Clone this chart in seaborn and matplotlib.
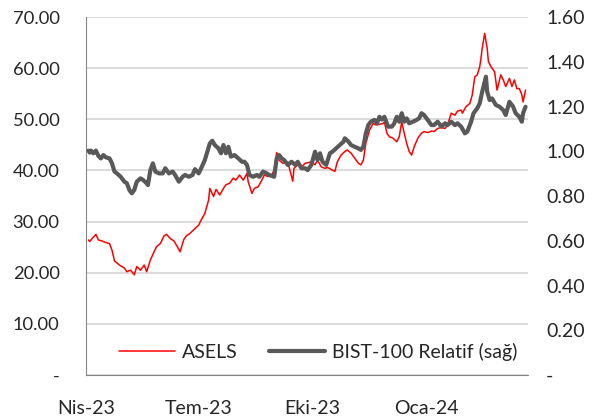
import numpy as np
import pandas as pd
import matplotlib
matplotlib.use("Agg")
import matplotlib.pyplot as plt
from matplotlib.ticker import FuncFormatter, MultipleLocator
import seaborn as sns

# days counted from 2023-04-01
asels_days = [2, 3, 5, 8, 10, 13, 16, 19, 21, 23, 27, 31, 33, 36, 39, 41, 44, 47, 49, 52,
              55, 57, 60, 63, 65, 68, 71, 73, 76, 79, 81, 84, 87, 91, 93, 96, 99, 100, 103, 105,
              108, 111, 113, 116, 119, 121, 124, 127, 130, 131, 134, 136, 139, 142, 144, 147, 150, 152, 154, 156,
              159, 162, 164, 167, 168, 171, 174, 177, 179, 182, 185, 187, 190, 193, 195, 198, 201, 203, 206, 209,
              211, 214, 217, 220, 222, 224, 226, 229, 232, 234, 237, 240, 241, 243, 245, 248, 251, 253, 255, 257,
              259, 261, 263, 265, 268, 271, 273, 276, 279, 281, 284, 287, 290, 292, 295, 298, 300, 303, 304, 307,
              310, 312, 314, 316, 318, 319, 320, 322, 324, 325, 327, 330, 332, 335, 337, 339, 342, 344, 346, 348,
              350, 352, 353, 355]
asels = [26.4, 26.1, 26.7, 27.5, 26.4, 26.2, 25.9, 25.7, 24.4, 22.3, 21.5, 20.9, 20.2, 20.5, 19.6, 21.2, 20.5, 21.5, 20.2, 22.5,
         24.1, 25.1, 25.7, 27.2, 27.5, 26.7, 26.2, 25.4, 24.1, 26.5, 27.2, 27.7, 28.4, 29.3, 30.3, 31.6, 34.2, 36.5, 34.9, 36.3,
         35.2, 36.5, 37.2, 37.5, 38.5, 38.1, 39.1, 38.1, 39.4, 37.8, 35.5, 36.5, 36.8, 38.1, 39.1, 38.8, 39.1, 40.1, 43.5, 42.0,
         41.4, 41.7, 40.7, 37.9, 40.4, 41.1, 40.7, 41.4, 41.5, 41.7, 41.1, 42.0, 40.7, 40.4, 40.6, 40.2, 39.8, 41.7, 43.0, 43.7,
         44.0, 43.4, 42.4, 41.4, 41.1, 42.0, 45.3, 47.9, 49.2, 48.9, 49.0, 49.2, 49.5, 47.3, 46.6, 46.3, 45.6, 46.6, 49.5, 47.3,
         45.3, 43.7, 43.0, 44.6, 46.3, 47.3, 47.6, 47.4, 47.7, 47.6, 48.2, 48.4, 48.2, 48.9, 51.2, 50.8, 51.6, 51.8, 51.2, 52.5,
         53.1, 54.8, 58.3, 58.7, 60.3, 61.9, 63.9, 66.8, 63.9, 61.3, 60.3, 59.3, 55.7, 58.7, 57.7, 56.4, 58.0, 56.4, 57.7, 56.0,
         56.0, 54.8, 53.4, 55.7]

bist_days = [2, 3, 4, 6, 8, 10, 12, 14, 16, 19, 21, 23, 25, 28, 31, 33, 35, 37, 39, 41,
             44, 46, 49, 50, 52, 54, 56, 59, 62, 64, 67, 70, 72, 75, 78, 80, 83, 86, 88, 91,
             93, 96, 98, 100, 102, 104, 107, 109, 111, 113, 115, 117, 120, 123, 126, 128, 130, 132, 135, 138,
             140, 143, 146, 148, 152, 154, 156, 158, 160, 163, 166, 169, 171, 174, 177, 179, 182, 185, 187, 189,
             191, 194, 197, 199, 202, 205, 208, 209, 212, 214, 217, 220, 222, 224, 226, 228, 230, 233, 235, 237,
             239, 241, 244, 247, 249, 251, 253, 255, 257, 259, 261, 264, 267, 269, 271, 273, 276, 279, 281, 284,
             287, 290, 292, 295, 298, 300, 303, 306, 308, 311, 313, 316, 318, 320, 323, 324, 326, 328, 331, 334,
             337, 339, 342, 345, 347, 350, 352, 353, 355]
bist = [1.003, 0.994, 1.003, 0.991, 1.003, 0.979, 0.968, 0.983, 0.973, 0.968, 0.946, 0.909, 0.901, 0.886, 0.864, 0.857, 0.827, 0.812, 0.827, 0.864,
        0.879, 0.872, 0.857, 0.849, 0.916, 0.946, 0.909, 0.901, 0.901, 0.924, 0.901, 0.909, 0.894, 0.864, 0.886, 0.894, 0.886, 0.894, 0.920, 0.901,
        0.924, 0.961, 0.998, 1.035, 1.047, 1.028, 1.013, 0.991, 1.028, 0.991, 1.020, 0.976, 0.983, 0.968, 0.953, 0.953, 0.939, 0.894, 0.886, 0.894,
        0.886, 0.909, 0.901, 0.894, 0.886, 0.968, 0.983, 0.968, 0.961, 0.939, 0.953, 0.939, 0.953, 0.924, 0.924, 0.916, 0.939, 0.998, 0.961, 0.991,
        0.953, 0.939, 0.991, 0.998, 1.013, 1.028, 1.043, 1.058, 1.043, 1.028, 1.020, 1.013, 1.006, 1.020, 1.080, 1.117, 1.132, 1.140, 1.125, 1.154,
        1.142, 1.154, 1.110, 1.110, 1.125, 1.154, 1.132, 1.170, 1.132, 1.147, 1.125, 1.132, 1.140, 1.147, 1.170, 1.162, 1.140, 1.117, 1.117, 1.132,
        1.110, 1.125, 1.117, 1.132, 1.117, 1.125, 1.110, 1.080, 1.088, 1.132, 1.170, 1.192, 1.214, 1.266, 1.333, 1.266, 1.229, 1.236, 1.207, 1.199,
        1.184, 1.162, 1.221, 1.199, 1.170, 1.154, 1.132, 1.170, 1.199]

quarter_ticks = ["2023-04-01", "2023-07-01", "2023-10-01", "2024-01-01"]
quarter_labels = ["Nis-23", "Tem-23", "Eki-23", "Oca-24"]


def get_datetime(days):
    '''
    Turn day offsets into datetimes
    '''
    return pd.Timestamp('2023-04-01') + pd.to_timedelta(days, 'D')


def fmt_value(v, pos):
    return "-" if abs(v) < 1e-9 else "{:.2f}".format(v)


sns.set_style("white")
plt.rcParams['font.family'] = ['Lato', 'DejaVu Sans']
fs = 14

df_a = pd.DataFrame({"date": get_datetime(asels_days), "value": asels})
df_b = pd.DataFrame({"date": get_datetime(bist_days), "value": bist})

fig = plt.figure(figsize=(6.04, 4.19), dpi=100)
ax = fig.add_axes([0.1424, 0.105, 0.7318, 0.8544])
ax2 = ax.twinx()

sns.lineplot(data=df_a, x="date", y="value", ax=ax, color="#ff0000", lw=1.1, label="ASELS", legend=False)
sns.lineplot(data=df_b, x="date", y="value", ax=ax2, color="#595959", lw=3.0,
             label="BIST-100 Relatif (sağ)", legend=False)

ax.set_ylim(0, 70)
ax2.set_ylim(0, 1.6)
ax.yaxis.set_major_locator(MultipleLocator(10))
ax2.yaxis.set_major_locator(MultipleLocator(0.2))
ax.yaxis.set_major_formatter(FuncFormatter(fmt_value))
ax2.yaxis.set_major_formatter(FuncFormatter(fmt_value))
ax.set_xlim(get_datetime(0), get_datetime(357))
ax.set_xticks(pd.to_datetime(quarter_ticks))
ax.set_xticklabels(quarter_labels)

ax.grid(axis="y", color="#d9d9d9", lw=1.3)
ax.set_axisbelow(True)
ax.set_xlabel("")
ax.set_ylabel("")
ax2.set_xlabel("")
ax2.set_ylabel("")

for a in (ax, ax2):
    for s in ("top", "right", "left", "bottom"):
        a.spines[s].set_visible(False)
ax.spines["left"].set_visible(True)
ax.spines["left"].set_color("#868686")
ax.spines["bottom"].set_visible(True)
ax.spines["bottom"].set_color("#868686")

ax.tick_params(axis="x", direction="out", length=5, color="#868686", pad=13, labelsize=fs)
ax.tick_params(axis="y", length=0, pad=19, labelsize=13.2)
ax2.tick_params(axis="y", length=0, pad=13, labelsize=fs)

h1, l1 = ax.get_legend_handles_labels()
h2, l2 = ax2.get_legend_handles_labels()
ax2.legend(h1 + h2, l1 + l2, loc="center", bbox_to_anchor=(0.525, 0.065), ncol=2, frameon=False,
           fontsize=fs, handlelength=2.9, columnspacing=1.6, handletextpad=0.35)

fig.savefig("out.png", dpi=100)
